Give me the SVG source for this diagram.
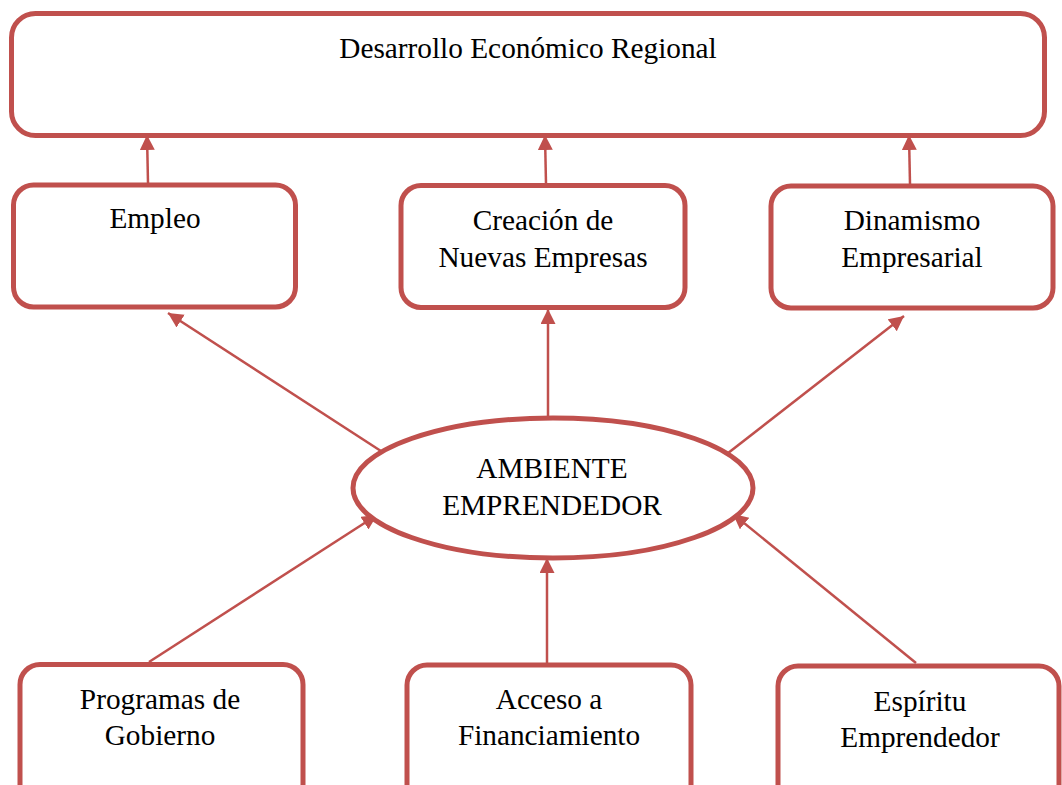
<svg xmlns="http://www.w3.org/2000/svg" width="1062" height="785" viewBox="0 0 1062 785">
<defs>
<style>
.box{fill:#fff;stroke:#C0504D;stroke-width:5}
.lbl{font-family:"Liberation Serif","Times New Roman",serif;font-size:29.3px;fill:#000;text-anchor:middle}
.con{stroke:#C0504D;stroke-width:2.5;fill:none;marker-end:url(#ah)}
</style>
<marker id="ah" markerUnits="userSpaceOnUse" markerWidth="18" markerHeight="18" refX="15" refY="7.5" orient="auto">
<path d="M0,0 L15,7.5 L0,15 z" fill="#C0504D"/>
</marker>
</defs>
<rect width="1062" height="785" fill="#fff"/>
<g id="connectors">
<line class="con" x1="148" y1="183" x2="147" y2="135"/>
<line class="con" x1="546" y1="184" x2="545" y2="135"/>
<line class="con" x1="910" y1="184" x2="909" y2="135"/>
<line class="con" x1="384" y1="453" x2="168" y2="313"/>
<line class="con" x1="548" y1="420" x2="548" y2="309"/>
<line class="con" x1="723" y1="457" x2="904" y2="316"/>
<line class="con" x1="149" y1="662" x2="377" y2="515"/>
<line class="con" x1="547" y1="667" x2="547" y2="558"/>
<line class="con" x1="916" y1="663" x2="733" y2="514"/>
</g>
<g id="desarrollo">
<rect class="box" x="11.5" y="13.5" width="1033" height="122" rx="24"/>
<text class="lbl" x="528" y="58">Desarrollo Económico Regional</text>
</g>
<g id="empleo">
<rect class="box" x="13.5" y="185" width="282" height="122" rx="20"/>
<text class="lbl" x="155" y="228">Empleo</text>
</g>
<g id="creacion">
<rect class="box" x="401" y="185.5" width="284" height="122" rx="20"/>
<text class="lbl" x="543" y="230">Creación de</text>
<text class="lbl" x="543" y="267">Nuevas Empresas</text>
</g>
<g id="dinamismo">
<rect class="box" x="771" y="186" width="282" height="122" rx="20"/>
<text class="lbl" x="912" y="230">Dinamismo</text>
<text class="lbl" x="912" y="267">Empresarial</text>
</g>
<g id="ambiente">
<ellipse class="box" cx="553" cy="488" rx="200" ry="70"/>
<text class="lbl" x="552" y="478">AMBIENTE</text>
<text class="lbl" x="552" y="515">EMPRENDEDOR</text>
</g>
<g id="programas">
<rect class="box" x="20" y="664.5" width="283" height="140" rx="20"/>
<text class="lbl" x="160" y="709">Programas de</text>
<text class="lbl" x="160" y="745">Gobierno</text>
</g>
<g id="acceso">
<rect class="box" x="407" y="665" width="284" height="140" rx="20"/>
<text class="lbl" x="549" y="709">Acceso a</text>
<text class="lbl" x="549" y="745">Financiamiento</text>
</g>
<g id="espiritu">
<rect class="box" x="778" y="666" width="281" height="140" rx="20"/>
<text class="lbl" x="920" y="711">Espíritu</text>
<text class="lbl" x="920" y="747">Emprendedor</text>
</g>
</svg>
